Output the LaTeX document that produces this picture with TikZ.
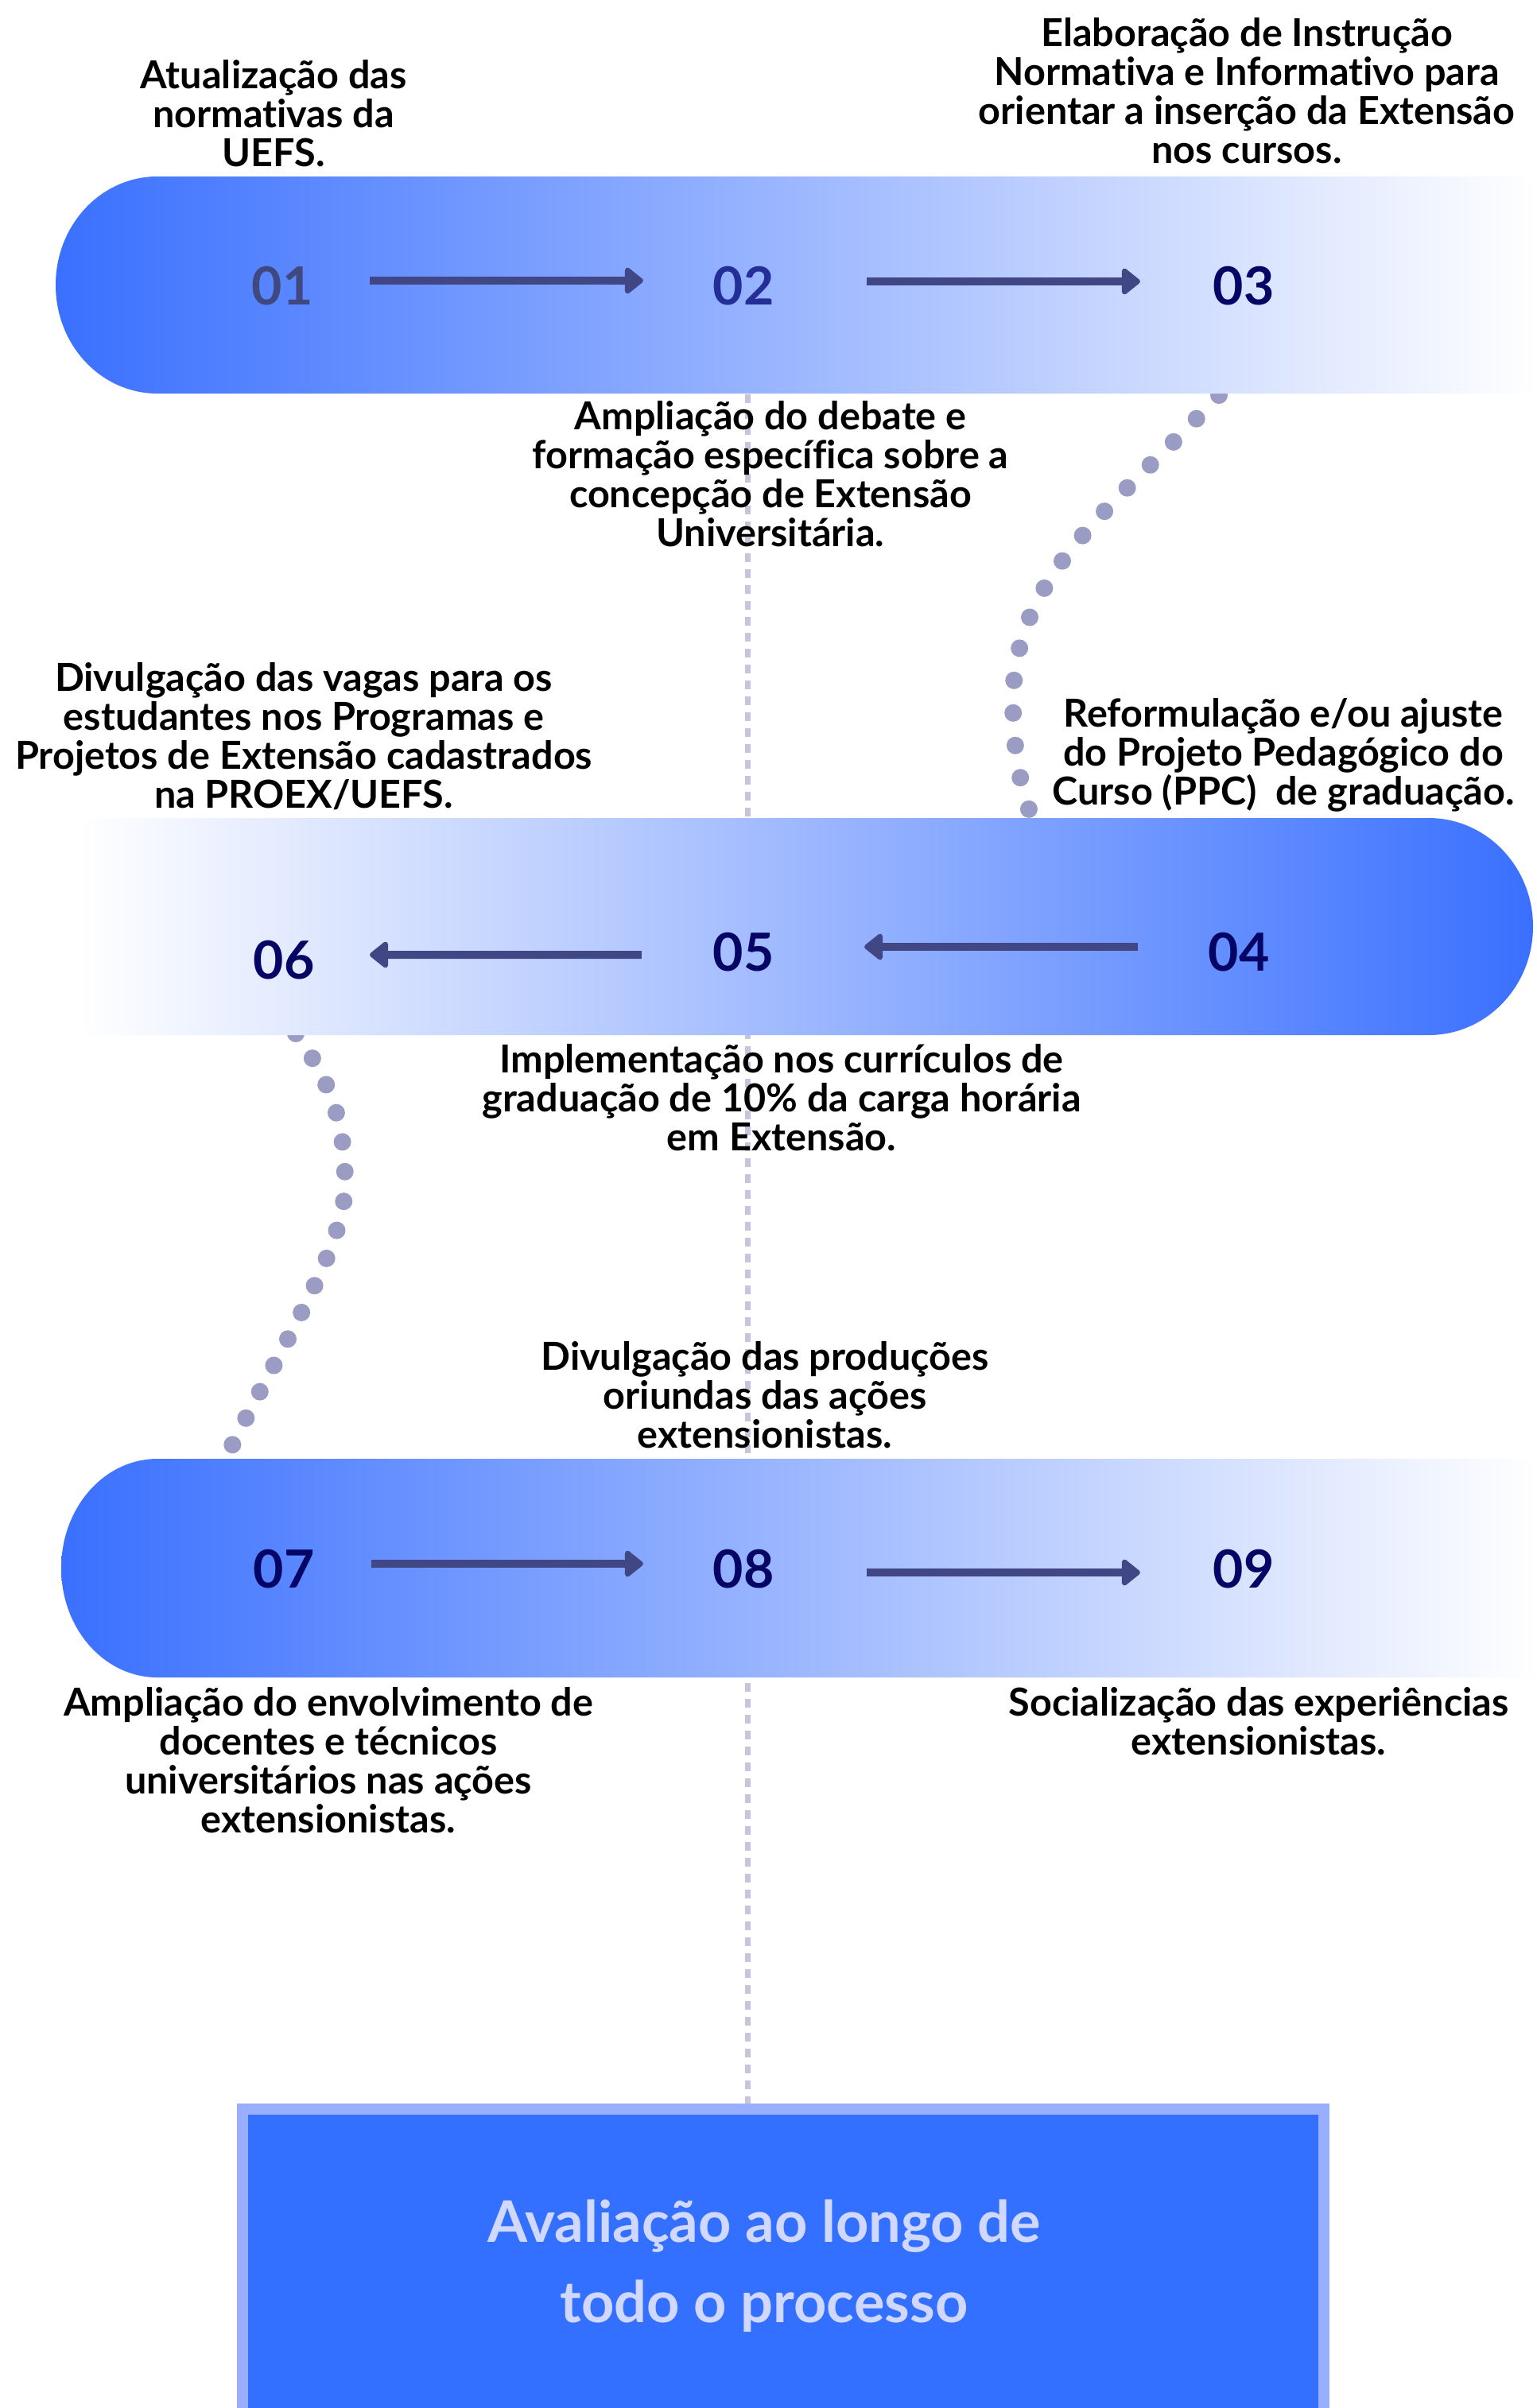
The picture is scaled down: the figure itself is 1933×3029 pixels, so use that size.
\documentclass[tikz,border=0pt]{standalone}
\usepackage{fontspec}
\setmainfont{Lato}[Ligatures=NoCommon]
\usetikzlibrary{arrows.meta}
\definecolor{bandblue}{HTML}{3A70FF}
\definecolor{bandmid}{HTML}{A0AFFF}
\definecolor{arrowgray}{HTML}{414785}
\definecolor{dotgray}{HTML}{9B9CC4}
\definecolor{dashgray}{HTML}{C5C5DC}
\definecolor{numnavy}{HTML}{050566}
\definecolor{numslate}{HTML}{404880}
\definecolor{numblue}{HTML}{232F96}
\definecolor{boxblue}{HTML}{3370FF}
\definecolor{boxrim}{HTML}{9AAEFF}
\definecolor{boxtext}{HTML}{D0D8FF}
\tikzset{
  stepnum/.style={font=\fontsize{18.8}{20}\selectfont\bfseries, text=numnavy},
  steptext/.style={align=center, font=\fontsize{13.8}{13.9}\selectfont\bfseries},
  flowarrow/.style={draw=arrowgray, line width=0.1cm, -{Triangle[round,length=0.25cm,width=0.38cm]}},
  dotline/.style={draw=dotgray, line width=0.22cm, line cap=round, dash pattern=on 0pt off #1},
  dotline/.default=0.41cm,
  dashline/.style={draw=dashgray, line width=0.07cm, dash pattern=on 0.11cm off 0.09cm},
  evalbox/.style={draw=boxrim, line width=0.14cm, fill=boxblue, minimum width=13.6cm, minimum height=4.1cm, inner sep=0pt},
  evaltext/.style={align=center, text=boxtext, font=\fontsize{20.5}{28.7}\selectfont\bfseries}
}
\begin{document}
\begin{tikzpicture}[x=0.01cm,y=-0.01cm]
    \fill[white] (0,0) rectangle (1933,3029);
    \useasboundingbox (0,0) rectangle (1933,3029);

    \node[evalbox] (evalbox) at (985,2858) {};
    \node[evaltext] (evaltext) at (961,2850) {Avaliação ao longo de\\todo o processo};

    \coordinate (dashtop) at (940,496);
    \draw[dashline] (dashtop) -- (dashtop |- evalbox.north);

    \coordinate (dotsa) at (1533,497);
    \coordinate (dotsb) at (1294,1018);
    \draw[dotline] (dotsa) .. controls (1400,640) and (1276,720) .. (1274,880)
        .. controls (1274,950) and (1285,990) .. (dotsb);
    \coordinate (dotsc) at (372,1300);
    \coordinate (dotsd) at (290,1822);
    \draw[dotline=0.375cm] (dotsc) .. controls (420,1365) and (434,1420) .. (434,1490)
        .. controls (434,1570) and (350,1700) .. (dotsd);

    \shade[left color=bandblue, middle color=bandmid, right color=white]
        (1933,222) -- (198,222) .. controls (127,222) and (70,283) .. (70,358.5)
        .. controls (70,434) and (127,495) .. (198,495) -- (1933,495) -- cycle;
    \shade[left color=white, middle color=bandmid, right color=bandblue]
        (100,1029) -- (1797,1029) .. controls (1869,1029) and (1928,1090) .. (1928,1165.5)
        .. controls (1928,1241) and (1869,1302) .. (1797,1302) -- (100,1302) -- cycle;
    \shade[left color=bandblue, middle color=bandmid, right color=white]
        (1933,1835) -- (198,1835) .. controls (131,1835) and (77,1896.5) .. (77,1972.5)
        .. controls (77,2048.5) and (131,2110) .. (198,2110) -- (1933,2110) -- cycle;

    \node[stepnum, text=numslate] (n01) at (355,360) {01};
    \node[stepnum, text=numblue] (n02) at (935,360) {02};
    \node[stepnum] (n03) at (1564,360) {03};
    \node[stepnum] (n04) at (1558,1198) {04};
    \node[stepnum] (n05) at (935,1198) {05};
    \node[stepnum] (n06) at (357,1208) {06};
    \node[stepnum] (n07) at (357,1974) {07};
    \node[stepnum] (n08) at (935,1974) {08};
    \node[stepnum] (n09) at (1564,1974) {09};

    \draw[flowarrow] ([xshift=1.1cm,yshift=0.07cm]n01.center) -- ([xshift=-1.26cm,yshift=0.07cm]n02.center);
    \draw[flowarrow] ([xshift=1.55cm,yshift=0.06cm]n02.center) -- ([xshift=-1.3cm,yshift=0.06cm]n03.center);
    \draw[flowarrow] ([xshift=-1.27cm,yshift=0.07cm]n04.center) -- ([xshift=1.52cm,yshift=0.07cm]n05.center);
    \draw[flowarrow] ([xshift=-1.28cm,yshift=-0.03cm]n05.center) -- ([xshift=1.08cm,yshift=0.07cm]n06.center);
    \draw[flowarrow] ([xshift=1.1cm,yshift=0.07cm]n07.center) -- ([xshift=-1.26cm,yshift=0.07cm]n08.center);
    \draw[flowarrow] ([xshift=1.55cm,yshift=-0.04cm]n08.center) -- ([xshift=-1.3cm,yshift=-0.04cm]n09.center);

    \node[steptext] (t01) at (344,143) {Atualização das\\normativas da\\UEFS.};
    \node[steptext] (t03) at (1568,114) {Elaboração de Instrução\\Normativa e Informativo para\\orientar a inserção da Extensão\\nos cursos.};
    \node[steptext] (t02) at (969,596) {Ampliação do debate e\\formação específica sobre a\\concepção de Extensão\\Universitária.};
    \node[steptext] (t06) at (382,926) {Divulgação das vagas para os\\estudantes nos Programas e\\Projetos de Extensão cadastrados\\na PROEX/UEFS.};
    \node[steptext] (t04) at (1614,950) {Reformulação e/ou ajuste\\do Projeto Pedagógico do\\Curso (PPC)\ \ de graduação.};
    \node[steptext] (t05) at (983,1381) {Implementação nos currículos de\\graduação de 10\% da carga horária\\em Extensão.};
    \node[steptext] (t08) at (962,1755) {Divulgação das produções\\oriundas das ações\\extensionistas.};
    \node[steptext] (t07) at (413,2214) {Ampliação do envolvimento de\\docentes e técnicos\\universitários nas ações\\extensionistas.};
    \node[steptext] (t09) at (1583,2165) {Socialização das experiências\\extensionistas.};
\end{tikzpicture}
\end{document}
